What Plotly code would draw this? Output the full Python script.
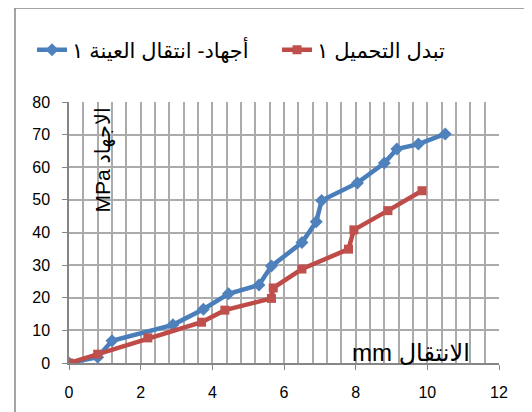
import plotly.graph_objects as go

# Series data (displacement mm, stress MPa)
blue_name = "أجهاد- انتقال العينة ١"
blue_x = [0, 0.8, 1.2, 2.9, 3.75, 4.45, 5.3, 5.65, 6.5, 6.9, 7.05, 8.05, 8.8, 9.15, 9.75, 10.5]
blue_y = [0, 1.8, 6.8, 11.7, 16.5, 21.2, 23.9, 29.7, 36.9, 43.3, 49.8, 55.2, 61.3, 65.6, 67.1, 70.2]

red_name = "تبدل التحميل ١"
red_x = [0, 0.8, 2.2, 3.7, 4.35, 5.65, 5.7, 6.5, 7.8, 7.95, 8.9, 9.85]
red_y = [0, 2.7, 7.7, 12.5, 16.2, 19.8, 23.0, 28.8, 34.9, 40.8, 46.7, 52.8]

x_title = "mm الانتقال"
y_title = "MPa الاجهاد"

FONT = "Liberation Sans, Arial, DejaVu Sans, sans-serif"

fig = go.Figure()
fig.add_trace(go.Scatter(
    x=blue_x, y=blue_y, name=blue_name, mode="lines+markers",
    line=dict(color="#4A7EBB", width=4.5),
    marker=dict(symbol="diamond", size=10, color="#4F81BD"),
))
fig.add_trace(go.Scatter(
    x=red_x, y=red_y, name=red_name, mode="lines+markers",
    line=dict(color="#BE4B48", width=4.5),
    marker=dict(symbol="square", size=9, color="#C0504D"),
))

W, H = 524, 404  # page body has an 8px margin
fig.update_layout(
    width=W, height=H,
    margin=dict(l=61, r=33, t=94, b=49, autoexpand=False),
    paper_bgcolor="white", plot_bgcolor="white",
    font=dict(family=FONT, size=16, color="black"),
    showlegend=True,
    legend=dict(orientation="h", x=-0.086, y=1.199, xanchor="left", yanchor="middle",
                font=dict(size=21), bgcolor="rgba(0,0,0,0)", traceorder="normal",
                entrywidth=200, entrywidthmode="pixels"),
    xaxis=dict(range=[0, 12], dtick=2, tick0=0, showgrid=True, gridcolor="#ABABAB", gridwidth=1.5,
               minor=dict(dtick=0.4, showgrid=True, gridcolor="#ABABAB", gridwidth=1.5),
               showline=True, linecolor="#868686", linewidth=1.5,
               ticks="outside", ticklen=5, tickcolor="#868686", ticklabelstandoff=9,
               zeroline=False, fixedrange=True),
    yaxis=dict(range=[0, 80], dtick=10, tick0=0, showgrid=True, gridcolor="#ABABAB", gridwidth=1.5,
               showline=True, linecolor="#868686", linewidth=1.5,
               ticks="outside", ticklen=5, tickcolor="#868686", ticklabelstandoff=9,
               zeroline=False, fixedrange=True),
    shapes=[dict(type="rect", xref="paper", yref="paper", x0=-0.1256, x1=2, y0=-1, y1=1.360,
                 line=dict(color="#868686", width=1.5), fillcolor="rgba(0,0,0,0)", layer="below")],
    annotations=[
        dict(text=x_title, xref="paper", yref="paper", x=(350-69)/430, y=-0.018,
             xanchor="left", yanchor="bottom", showarrow=False, font=dict(size=24)),
        dict(text=y_title, xref="paper", yref="paper", x=(102-69)/430, y=(363-215)/261,
             xanchor="center", yanchor="bottom", textangle=-90, showarrow=False, font=dict(size=21)),
    ],
)

fig.write_html("out.html")
